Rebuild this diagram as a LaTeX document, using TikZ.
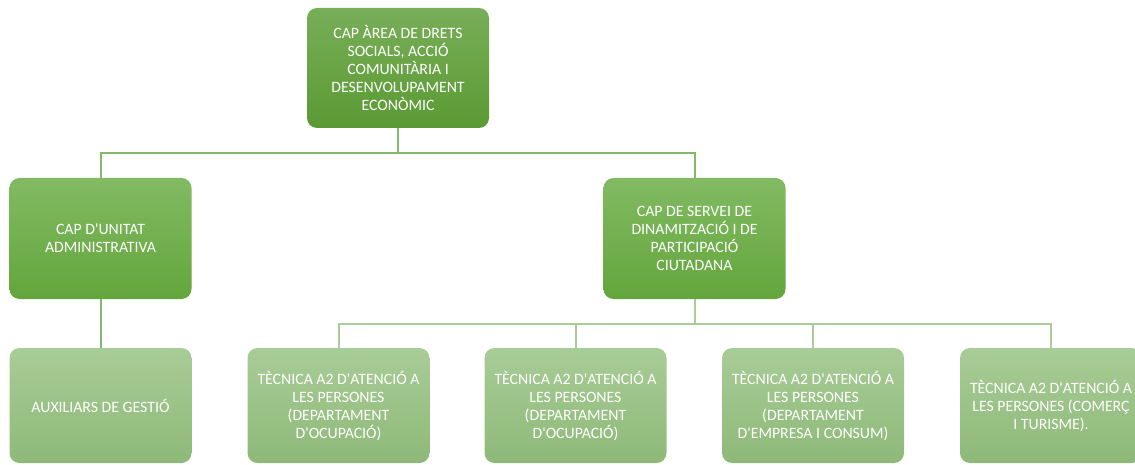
\documentclass[tikz,border=0pt]{standalone}
\usepackage{fontspec}
\setmainfont{Carlito}
\newcommand{\ap}{\textquotesingle}
\begin{document}
\begin{tikzpicture}[x=1pt,y=-1pt,
  box/.style={rounded corners=10pt, minimum width=182pt, align=center, text=white,
    font=\fontsize{15.8}{18}\selectfont, inner sep=0pt},
  lvl0/.style={box, minimum height=120pt, top color=top0, bottom color=bot0, draw=none},
  lvl1/.style={box, minimum height=121pt, top color=top1, bottom color=bot1, draw=none},
  lvl2/.style={box, minimum height=115pt, top color=top2, bottom color=bot2, draw=none},
  link1/.style={draw=line1, line width=2pt},
  link2/.style={draw=line2, line width=2pt}]
\definecolor{top0}{HTML}{78AE58}
\definecolor{bot0}{HTML}{5A9A33}
\definecolor{top1}{HTML}{82BA63}
\definecolor{bot1}{HTML}{63A63C}
\definecolor{top2}{HTML}{A8CC97}
\definecolor{bot2}{HTML}{8EB978}
\definecolor{line1}{HTML}{85B868}
\definecolor{line2}{HTML}{AACC99}
\useasboundingbox (0,0) rectangle (1135,465);
\node[lvl0] (top) at (398,68) {CAP ÀREA DE DRETS\\SOCIALS, ACCIÓ\\COMUNITÀRIA I\\DESENVOLUPAMENT\\ECONÒMIC};
\node[lvl1] (l1) at (100.5,238.5) {CAP D\ap UNITAT\\ADMINISTRATIVA};
\node[lvl1] (r1) at (694.5,238.5) {CAP DE SERVEI DE\\DINAMITZACIÓ I DE\\PARTICIPACIÓ\\CIUTADANA};
\node[lvl2] (aux) at (100.5,405.5) {AUXILIARS DE GESTIÓ};
\node[lvl2] (b1) at (338.5,405.5) {TÈCNICA A2 D\ap ATENCIÓ A\\LES PERSONES\\(DEPARTAMENT\\D\ap OCUPACIÓ)};
\node[lvl2] (b2) at (575.5,405.5) {TÈCNICA A2 D\ap ATENCIÓ A\\LES PERSONES\\(DEPARTAMENT\\D\ap OCUPACIÓ)};
\node[lvl2] (b3) at (813,405.5) {TÈCNICA A2 D\ap ATENCIÓ A\\LES PERSONES\\(DEPARTAMENT\\D\ap EMPRESA I CONSUM)};
\node[lvl2] (b4) at (1051,405.5) {TÈCNICA A2 D\ap ATENCIÓ A\\LES PERSONES (COMERÇ\\I TURISME).};
\coordinate (j0) at (398,153);
\coordinate (j1) at (694.5,323.5);
\path[link1] (top.south) -- (j0) -| (l1.north);
\path[link1] (j0) -| (r1.north);
\path[link1] (l1.south) -- (aux.north);
\path[link2] (r1.south) -- (j1);
\path[link2] (j1) -| (b1.north);
\path[link2] (j1) -| (b2.north);
\path[link2] (j1) -| (b3.north);
\path[link2] (j1) -| (b4.north);
\end{tikzpicture}
\end{document}
